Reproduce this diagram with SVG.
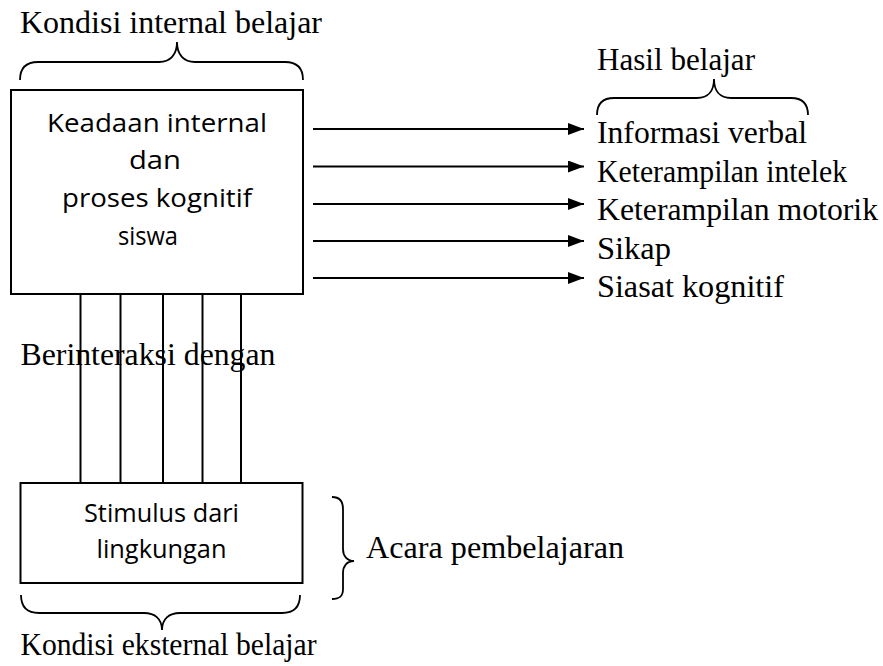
<svg xmlns="http://www.w3.org/2000/svg" width="883" height="666" viewBox="0 0 883 666">
<style>
.serif{font-family:"Liberation Serif","Times New Roman",serif;font-size:32px;fill:#000}
.sans{font-family:"Open Sans","Noto Sans",sans-serif;font-size:26px;fill:#000}
.box{fill:#fff;stroke:#000;stroke-width:2}
.ln{stroke:#000;stroke-width:2;fill:none}
.brace{stroke:#000;stroke-width:1.8;fill:none}
</style>
<defs>
<marker id="ah" markerUnits="userSpaceOnUse" markerWidth="16" markerHeight="12" refX="16" refY="6" orient="auto">
<path d="M0,0 L16,6 L0,12 z" fill="#000"/>
</marker>
</defs>
<rect width="883" height="666" fill="#fff"/>

<g id="label-internal">
<text class="serif" x="20" y="33" textLength="302" lengthAdjust="spacingAndGlyphs">Kondisi internal belajar</text>
<path class="brace" d="M20,80 C20,68 26,62 38,62 L159,62 C170,62 177,55 177,42 C177,55 184,62 195,62 L285,62 C297,62 303,68 303,80"/>
</g>

<g id="node-internal">
<rect class="box" x="11" y="90" width="292" height="204"/>
<text class="sans" x="157" y="131.5" text-anchor="middle" textLength="220" lengthAdjust="spacingAndGlyphs">Keadaan internal</text>
<text class="sans" x="155" y="169" text-anchor="middle" textLength="52" lengthAdjust="spacingAndGlyphs">dan</text>
<text class="sans" x="157" y="206.5" text-anchor="middle" textLength="190" lengthAdjust="spacingAndGlyphs">proses kognitif</text>
<text class="sans" x="148" y="245" text-anchor="middle" textLength="60" lengthAdjust="spacingAndGlyphs">siswa</text>
</g>

<g id="label-hasil">
<text class="serif" x="597" y="70" textLength="158" lengthAdjust="spacingAndGlyphs">Hasil belajar</text>
<path class="brace" d="M597,115 C597,104 602,98 614,98 L697,98 C708,98 714,91 714,79 C714,91 720,98 731,98 L791,98 C803,98 808,104 808,115"/>
</g>

<g id="outcomes">
<text class="serif" x="597" y="143" textLength="210" lengthAdjust="spacingAndGlyphs">Informasi verbal</text>
<text class="serif" x="597" y="181.5" textLength="250" lengthAdjust="spacingAndGlyphs">Keterampilan intelek</text>
<text class="serif" x="597" y="220" textLength="281" lengthAdjust="spacingAndGlyphs">Keterampilan motorik</text>
<text class="serif" x="597" y="258.5" textLength="74" lengthAdjust="spacingAndGlyphs">Sikap</text>
<text class="serif" x="597" y="297" textLength="187" lengthAdjust="spacingAndGlyphs">Siasat kognitif</text>
</g>

<g id="label-interaksi">
<text class="serif" x="20.5" y="365" textLength="255" lengthAdjust="spacingAndGlyphs">Berinteraksi dengan</text>
</g>

<g id="connectors">
<line class="ln" x1="313" y1="129" x2="584" y2="129" marker-end="url(#ah)"/>
<line class="ln" x1="313" y1="166.5" x2="584" y2="166.5" marker-end="url(#ah)"/>
<line class="ln" x1="313" y1="204" x2="584" y2="204" marker-end="url(#ah)"/>
<line class="ln" x1="313" y1="241" x2="584" y2="241" marker-end="url(#ah)"/>
<line class="ln" x1="313" y1="278" x2="584" y2="278" marker-end="url(#ah)"/>
<line class="ln" x1="80.5" y1="295" x2="80.5" y2="483"/>
<line class="ln" x1="120.5" y1="295" x2="120.5" y2="483"/>
<line class="ln" x1="163" y1="295" x2="163" y2="483"/>
<line class="ln" x1="202.5" y1="295" x2="202.5" y2="483"/>
<line class="ln" x1="241" y1="295" x2="241" y2="483"/>
</g>

<g id="node-stimulus">
<rect class="box" x="20.5" y="483" width="282" height="100"/>
<text class="sans" x="161.5" y="521.5" text-anchor="middle" textLength="155" lengthAdjust="spacingAndGlyphs">Stimulus dari</text>
<text class="sans" x="161.5" y="558" text-anchor="middle" textLength="130" lengthAdjust="spacingAndGlyphs">lingkungan</text>
</g>

<g id="label-acara">
<path class="brace" d="M332,497 C340,497 343,501 343,509 L343,549 C343,556 347,561 354,561 C347,561 343,566 343,573 L343,589 C343,596 340,599 332,599"/>
<text class="serif" x="366" y="558" textLength="258" lengthAdjust="spacingAndGlyphs">Acara pembelajaran</text>
</g>

<g id="label-eksternal">
<path class="brace" d="M21,595 C21,607 27,613 39,613 L144,613 C155,613 162,619 162,630 C162,619 169,613 180,613 L282,613 C294,613 300,607 300,595"/>
<text class="serif" x="20.5" y="655" textLength="296" lengthAdjust="spacingAndGlyphs">Kondisi eksternal belajar</text>
</g>
</svg>
